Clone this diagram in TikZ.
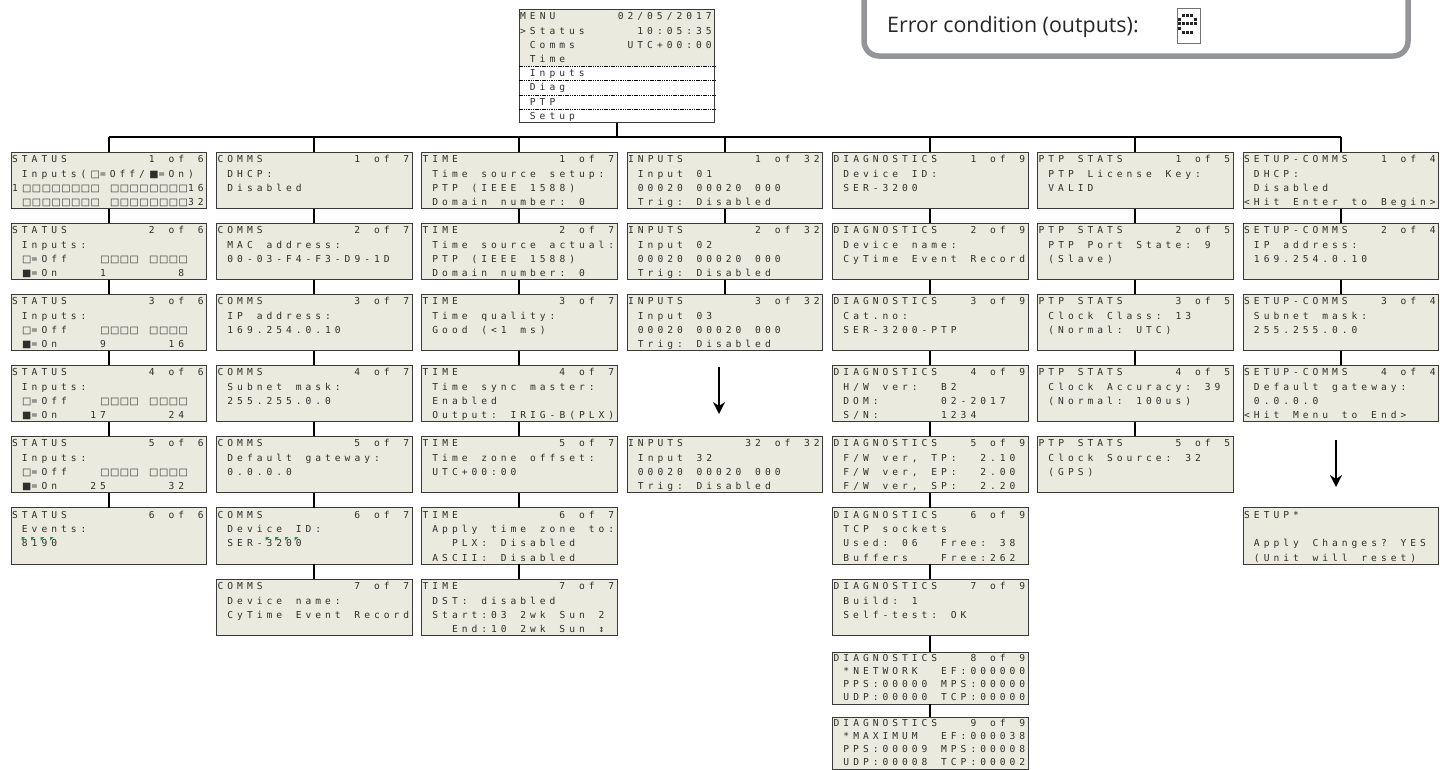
\documentclass[tikz,border=0pt]{standalone}
\usepackage{fontspec}
\usetikzlibrary{arrows.meta}
\newfontfamily\lcdfamily[LetterSpace=41.6]{DejaVu Sans Mono}
\newfontfamily\lcdsquares{DejaVu Sans}
\newfontfamily\legendfamily{Open Sans}
\definecolor{lcdbg}{HTML}{EBEADF}
\definecolor{lcdedge}{HTML}{3A3A38}
\definecolor{lcdink}{HTML}{2E2E2C}
\definecolor{legendgray}{HTML}{939598}
\definecolor{flaggreen}{HTML}{2E8B45}
\newcommand{\lcdfont}[2]{\lcdfamily\fontsize{9.6}{#1}\selectfont\def\lcdshift{#2}}
\newcommand{\lcdstart}{\rightskip -30pt plus 1fil\relax\rule{0pt}{\dimexpr.7\baselineskip+\lcdshift\relax}}
\newcommand{\lcdstop}{\rule[\dimexpr-.3\baselineskip+\lcdshift\relax]{0pt}{\dimexpr.3\baselineskip-\lcdshift\relax}}
% a blank column of the screen; a word loses its last letter gap, so give it back
\renewcommand{~}{\relax\ifnum\lastnodetype=9 \hskip13.76pt\else\hskip9.77pt\fi}
\newcommand{\sqgap}{\relax\ifnum\lastnodetype=9 \kern3.99pt\fi}
\newcommand{\sqoff}{\sqgap\makebox[9.77pt]{\lcdsquares\fontsize{9.8}{14.2}\selectfont □}}
\newcommand{\sqon}{\sqgap\makebox[9.77pt]{\lcdsquares\fontsize{9.8}{14.2}\selectfont ■}}
\newcommand{\sqrow}{\sqoff\sqoff\sqoff\sqoff}
\tikzset{
    lcd/.style={draw=lcdedge, fill=lcdbg, text=lcdink, line width=1pt, anchor=north west,
        inner xsep=1.2pt, inner ysep=0pt, outer sep=0pt, text width=193.2pt, align=left,
        font=\lcdfont{14.2}{1pt},
        execute at begin node=\lcdstart, execute at end node=\lcdstop},
    lcdtight/.style={lcd, font=\lcdfont{13}{0pt}},
    bar/.style={draw=black, line width=1.8pt},
    menusep/.style={draw=black, line width=0.7pt, dash pattern=on 1.5pt off 0.8pt},
    down/.style={-{Stealth[length=12pt,width=12pt,inset=4pt]}, draw=black, line width=2pt},
    flag/.style={fill=flaggreen}
}
\begin{document}
\begin{tikzpicture}[x=1pt,y=-1pt]
    \useasboundingbox (0,0) rectangle (1450,769);

    % legend
    \draw[legendgray, line width=5.5pt, rounded corners=15pt] (864,-4) -- (864,56) -- (1408,56) -- (1408,-4);
    \node[anchor=west, inner sep=0pt, text=black!85, font=\legendfamily\fontsize{21.4}{24}\selectfont] (errlabel) at (887,27) {Error condition (outputs):};
    \node[draw=black!55, line width=1pt, minimum width=23pt, minimum height=35pt, inner sep=0pt] (erricon) at (1188.5,25.5) {};
    \foreach \x/\y in {1/0,2/0,3/0,0/1,4/1,0/2,1/2,2/2,3/2,4/2,0/3,1/4,2/4,3/4}
        \fill[black!85] (1178+\x*4,14+\y*4.2) rectangle ++(3,3);

    % menu
    \node[lcd, fill=white, path picture={\fill[lcdbg] (path picture bounding box.north west) rectangle ++(196,57);}] (menu) at (519,9)
        {MENU~~~~~~02/05/2017\\>Status~~~~~10:05:35\\~Comms~~~~~UTC+00:00\\~Time\\~Inputs\\~Diag\\~PTP\\~Setup};
    \foreach \y in {66,80.5,95,109}
        \draw[menusep] (menu.west |- 0,\y) -- (menu.east |- 0,\y);

    % status
    \node[lcd] (st1) at (11,152) {STATUS~~~~~~~~1~of~6\\~Inputs(\sqoff=Off/\sqon=On)\\1\sqrow\sqrow~\sqrow\sqrow16\\~\sqrow\sqrow~\sqrow\sqrow32};
    \node[lcd] (st2) at (11,223) {STATUS~~~~~~~~2~of~6\\~Inputs:\\~\sqoff=Off~~~\sqrow~\sqrow\\~\sqon=On~~~~1~~~~~~~8};
    \node[lcd] (st3) at (11,294) {STATUS~~~~~~~~3~of~6\\~Inputs:\\~\sqoff=Off~~~\sqrow~\sqrow\\~\sqon=On~~~~9~~~~~~16};
    \node[lcd] (st4) at (11,365) {STATUS~~~~~~~~4~of~6\\~Inputs:\\~\sqoff=Off~~~\sqrow~\sqrow\\~\sqon=On~~~17~~~~~~24};
    \node[lcd] (st5) at (11,436) {STATUS~~~~~~~~5~of~6\\~Inputs:\\~\sqoff=Off~~~\sqrow~\sqrow\\~\sqon=On~~~25~~~~~~32};
    \node[lcd] (st6) at (11,507.5) {STATUS~~~~~~~~6~of~6\\~Events:\\~8190\\~};

    % comms
    \node[lcd] (co1) at (216.5,152) {COMMS~~~~~~~~~1~of~7\\~DHCP:\\~Disabled\\~};
    \node[lcd] (co2) at (216.5,223) {COMMS~~~~~~~~~2~of~7\\~MAC~address:\\~00-03-F4-F3-D9-1D\\~};
    \node[lcd] (co3) at (216.5,294) {COMMS~~~~~~~~~3~of~7\\~IP~address:\\~169.254.0.10\\~};
    \node[lcd] (co4) at (216.5,365) {COMMS~~~~~~~~~4~of~7\\~Subnet~mask:\\~255.255.0.0\\~};
    \node[lcd] (co5) at (216.5,436) {COMMS~~~~~~~~~5~of~7\\~Default~gateway:\\~0.0.0.0\\~};
    \node[lcd] (co6) at (216.5,507.5) {COMMS~~~~~~~~~6~of~7\\~Device~ID:\\~SER-3200\\~};
    \node[lcd] (co7) at (216.5,579) {COMMS~~~~~~~~~7~of~7\\~Device~name:\\~CyTime~Event~Record\\~};

    % time
    \node[lcd] (ti1) at (421.5,152) {TIME~~~~~~~~~~1~of~7\\~Time~source~setup:\\~PTP~(IEEE~1588)\\~Domain~number:~0};
    \node[lcd] (ti2) at (421.5,223) {TIME~~~~~~~~~~2~of~7\\~Time~source~actual:\\~PTP~(IEEE~1588)\\~Domain~number:~0};
    \node[lcd] (ti3) at (421.5,294) {TIME~~~~~~~~~~3~of~7\\~Time~quality:\\~Good~(<1~ms)\\~};
    \node[lcd] (ti4) at (421.5,365) {TIME~~~~~~~~~~4~of~7\\~Time~sync~master:\\~Enabled\\~Output:~IRIG-B(PLX)};
    \node[lcd] (ti5) at (421.5,436) {TIME~~~~~~~~~~5~of~7\\~Time~zone~offset:\\~UTC+00:00\\~};
    \node[lcd] (ti6) at (421.5,507.5) {TIME~~~~~~~~~~6~of~7\\~Apply~time~zone~to:\\~~~PLX:~Disabled\\~ASCII:~Disabled};
    \node[lcd] (ti7) at (421.5,579) {TIME~~~~~~~~~~7~of~7\\~DST:~disabled\\~Start:03~2wk~Sun~2\\~~~End:10~2wk~Sun~↕};

    % inputs
    \node[lcd] (in1) at (627,152) {INPUTS~~~~~~~1~of~32\\~Input~01\\~00020~00020~000\\~Trig:~Disabled};
    \node[lcd] (in2) at (627,223) {INPUTS~~~~~~~2~of~32\\~Input~02\\~00020~00020~000\\~Trig:~Disabled};
    \node[lcd] (in3) at (627,294) {INPUTS~~~~~~~3~of~32\\~Input~03\\~00020~00020~000\\~Trig:~Disabled};
    \node[lcd] (in32) at (627,436) {INPUTS~~~~~~32~of~32\\~Input~32\\~00020~00020~000\\~Trig:~Disabled};

    % diagnostics
    \node[lcd] (di1) at (832.5,152) {DIAGNOSTICS~~~1~of~9\\~Device~ID:\\~SER-3200\\~};
    \node[lcd] (di2) at (832.5,223) {DIAGNOSTICS~~~2~of~9\\~Device~name:\\~CyTime~Event~Record\\~};
    \node[lcd] (di3) at (832.5,294) {DIAGNOSTICS~~~3~of~9\\~Cat.no:\\~SER-3200-PTP\\~};
    \node[lcd] (di4) at (832.5,365) {DIAGNOSTICS~~~4~of~9\\~H/W~ver:~~B2\\~DOM:~~~~~~02-2017\\~S/N:~~~~~~1234};
    \node[lcd] (di5) at (832.5,436) {DIAGNOSTICS~~~5~of~9\\~F/W~ver,~TP:~~2.10\\~F/W~ver,~EP:~~2.00\\~F/W~ver,~SP:~~2.20};
    \node[lcd] (di6) at (832.5,507.5) {DIAGNOSTICS~~~6~of~9\\~TCP~sockets\\~Used:~06~~Free:~38\\~Buffers~~~Free:262};
    \node[lcd] (di7) at (832.5,579) {DIAGNOSTICS~~~7~of~9\\~Build:~1\\~Self-test:~OK\\~};
    \node[lcdtight] (di8) at (832.5,652) {DIAGNOSTICS~~~8~of~9\\~*NETWORK~~EF:000000\\~PPS:00000~MPS:00000\\~UDP:00000~TCP:00000};
    \node[lcdtight] (di9) at (832.5,717) {DIAGNOSTICS~~~9~of~9\\~*MAXIMUM~~EF:000038\\~PPS:00009~MPS:00008\\~UDP:00008~TCP:00002};

    % ptp stats
    \node[lcd] (pt1) at (1037.5,152) {PTP~STATS~~~~~1~of~5\\~PTP~License~Key:\\~VALID\\~};
    \node[lcd] (pt2) at (1037.5,223) {PTP~STATS~~~~~2~of~5\\~PTP~Port~State:~9\\~(Slave)\\~};
    \node[lcd] (pt3) at (1037.5,294) {PTP~STATS~~~~~3~of~5\\~Clock~Class:~13\\~(Normal:~UTC)\\~};
    \node[lcd] (pt4) at (1037.5,365) {PTP~STATS~~~~~4~of~5\\~Clock~Accuracy:~39\\~(Normal:~100us)\\~};
    \node[lcd] (pt5) at (1037.5,436) {PTP~STATS~~~~~5~of~5\\~Clock~Source:~32\\~(GPS)\\~};

    % setup
    \node[lcd] (se1) at (1243,152) {SETUP-COMMS~~~1~of~4\\~DHCP:\\~Disabled\\<Hit~Enter~to~Begin>};
    \node[lcd] (se2) at (1243,223) {SETUP-COMMS~~~2~of~4\\~IP~address:\\~169.254.0.10\\~};
    \node[lcd] (se3) at (1243,294) {SETUP-COMMS~~~3~of~4\\~Subnet~mask:\\~255.255.0.0\\~};
    \node[lcd] (se4) at (1243,365) {SETUP-COMMS~~~4~of~4\\~Default~gateway:\\~0.0.0.0\\<Hit~Menu~to~End>};
    \node[lcd] (se5) at (1243,507.5) {SETUP*\\~\\~Apply~Changes?~YES\\~(Unit~will~reset)};

    % bus from the menu
    \coordinate (busl) at (st1.north |- 0,137);
    \coordinate (busr) at (se1.north |- 0,137);
    \draw[bar] (menu.south) -- (menu.south |- busl);
    \draw[bar] (busl) -- (busr);
    \foreach \n in {st1,co1,ti1,in1,di1,pt1,se1}
        \draw[bar] (\n.north |- busl) -- (\n);

    \draw[bar]
    (st1) edge (st2) (st2) edge (st3) (st3) edge (st4) (st4) edge (st5) (st5) edge (st6)
    (co1) edge (co2) (co2) edge (co3) (co3) edge (co4) (co4) edge (co5) (co5) edge (co6) (co6) edge (co7)
    (ti1) edge (ti2) (ti2) edge (ti3) (ti3) edge (ti4) (ti4) edge (ti5) (ti5) edge (ti6) (ti6) edge (ti7)
    (in1) edge (in2) (in2) edge (in3)
    (di1) edge (di2) (di2) edge (di3) (di3) edge (di4) (di4) edge (di5) (di5) edge (di6) (di6) edge (di7) (di7) edge (di8) (di8) edge (di9)
    (pt1) edge (pt2) (pt2) edge (pt3) (pt3) edge (pt4) (pt4) edge (pt5)
    (se1) edge (se2) (se2) edge (se3) (se3) edge (se4);

    % arrows between the far screens
    \coordinate (inA) at (719,367);
    \coordinate (inB) at (719,414);
    \coordinate (seA) at (1336,440);
    \coordinate (seB) at (1336,487);
    \draw[down] (inA) -- (inB);
    \draw[down] (seA) -- (seB);

    % green flags on the digits
    \foreach \x in {21.5,31,40.7,50}
        \fill[flag] (\x,537) -- ++(3.6,0) -- ++(-3.6,3.6) -- cycle;
    \foreach \x in {265.7,275.2,285,294.7}
        \fill[flag] (\x,537) -- ++(3.6,0) -- ++(-3.6,3.6) -- cycle;
\end{tikzpicture}
\end{document}
